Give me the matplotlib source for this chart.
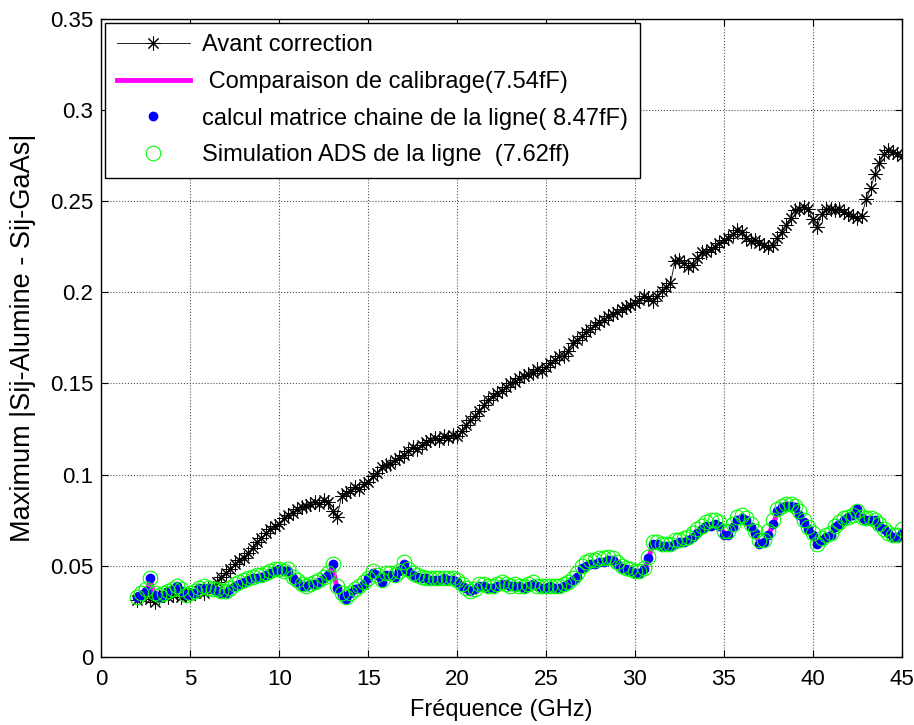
import numpy as np
import matplotlib.pyplot as plt
from matplotlib.ticker import FormatStrFormatter

plt.rcParams['font.family'] = ['Liberation Sans', 'DejaVu Sans']

# frequence de 2 a 45 GHz, pas de 0.25 GHz
freq = np.arange(2, 45.001, 0.25)

avant = [
    0.031, 0.033, 0.034, 0.032,
    0.030, 0.033, 0.034, 0.033,
    0.034, 0.035, 0.033, 0.034,
    0.034, 0.035, 0.036, 0.035,
    0.037, 0.038, 0.041, 0.044,
    0.046, 0.048, 0.051, 0.053,
    0.054, 0.057, 0.060, 0.063,
    0.065, 0.068, 0.070, 0.072,
    0.073, 0.076, 0.078, 0.079,
    0.081, 0.082, 0.083, 0.084,
    0.085, 0.084, 0.086, 0.085,
    0.080, 0.077, 0.088, 0.090,
    0.091, 0.093, 0.092, 0.095,
    0.096, 0.099, 0.101, 0.104,
    0.105, 0.106, 0.108, 0.109,
    0.111, 0.113, 0.115, 0.114,
    0.116, 0.118, 0.119, 0.120,
    0.119, 0.121, 0.120, 0.122,
    0.121, 0.124, 0.127, 0.130,
    0.132, 0.135, 0.138, 0.141,
    0.143, 0.145, 0.146, 0.148,
    0.150, 0.151, 0.153, 0.154,
    0.155, 0.156, 0.158, 0.157,
    0.159, 0.161, 0.163, 0.165,
    0.165, 0.168, 0.172, 0.174,
    0.176, 0.178, 0.180, 0.182,
    0.184, 0.185, 0.187, 0.188,
    0.189, 0.191, 0.192, 0.193,
    0.194, 0.196, 0.198, 0.197,
    0.195, 0.198, 0.201, 0.203,
    0.205, 0.217, 0.218, 0.216,
    0.214, 0.215, 0.219, 0.222,
    0.222, 0.224, 0.225, 0.227,
    0.229, 0.230, 0.232, 0.234,
    0.233, 0.230, 0.228, 0.229,
    0.227, 0.226, 0.225, 0.226,
    0.230, 0.233, 0.237, 0.241,
    0.245, 0.246, 0.247, 0.246,
    0.240, 0.236, 0.243, 0.246,
    0.246, 0.245, 0.246, 0.244,
    0.243, 0.242, 0.241, 0.242,
    0.251, 0.257, 0.265, 0.271,
    0.276, 0.278, 0.277, 0.276,
    0.275,
]

calib = [
    0.032, 0.034, 0.035, 0.042,
    0.033, 0.032, 0.034, 0.035,
    0.036, 0.038, 0.036, 0.033,
    0.034, 0.035, 0.037, 0.038,
    0.037, 0.036, 0.035, 0.034,
    0.034, 0.036, 0.038, 0.040,
    0.040, 0.041, 0.042, 0.043,
    0.043, 0.044, 0.046, 0.047,
    0.047, 0.046, 0.047, 0.042,
    0.040, 0.038, 0.038, 0.039,
    0.039, 0.041, 0.042, 0.045,
    0.050, 0.037, 0.033, 0.031,
    0.034, 0.036, 0.038, 0.039,
    0.042, 0.046, 0.044, 0.040,
    0.045, 0.044, 0.043, 0.046,
    0.050, 0.046, 0.045, 0.043,
    0.043, 0.042, 0.042, 0.041,
    0.042, 0.042, 0.041, 0.042,
    0.040, 0.039, 0.037, 0.035,
    0.036, 0.039, 0.038, 0.038,
    0.037, 0.039, 0.040, 0.039,
    0.038, 0.039, 0.038, 0.037,
    0.039, 0.040, 0.038, 0.037,
    0.038, 0.038, 0.037, 0.038,
    0.038, 0.040, 0.041, 0.043,
    0.048, 0.050, 0.050, 0.050,
    0.051, 0.052, 0.052, 0.053,
    0.050, 0.048, 0.047, 0.046,
    0.045, 0.046, 0.047, 0.053,
    0.062, 0.061, 0.060, 0.061,
    0.060, 0.062, 0.062, 0.063,
    0.064, 0.065, 0.067, 0.070,
    0.071, 0.072, 0.073, 0.072,
    0.068, 0.066, 0.071, 0.074,
    0.076, 0.074, 0.071, 0.067,
    0.063, 0.062, 0.067, 0.072,
    0.079, 0.081, 0.083, 0.082,
    0.081, 0.078, 0.073, 0.070,
    0.066, 0.061, 0.063, 0.065,
    0.066, 0.070, 0.073, 0.075,
    0.076, 0.077, 0.080, 0.076,
    0.074, 0.075, 0.074, 0.072,
    0.069, 0.067, 0.066, 0.066,
    0.067,
]

matrice = [
    0.033, 0.034, 0.036, 0.043,
    0.034, 0.033, 0.034, 0.036,
    0.037, 0.039, 0.036, 0.034,
    0.035, 0.035, 0.038, 0.038,
    0.038, 0.037, 0.036, 0.035,
    0.035, 0.037, 0.039, 0.040,
    0.041, 0.042, 0.043, 0.043,
    0.044, 0.045, 0.046, 0.047,
    0.048, 0.047, 0.047, 0.043,
    0.041, 0.039, 0.039, 0.040,
    0.040, 0.041, 0.043, 0.045,
    0.051, 0.038, 0.034, 0.032,
    0.035, 0.037, 0.038, 0.040,
    0.043, 0.046, 0.045, 0.041,
    0.045, 0.045, 0.044, 0.047,
    0.051, 0.047, 0.045, 0.044,
    0.043, 0.043, 0.042, 0.042,
    0.042, 0.043, 0.042, 0.042,
    0.041, 0.039, 0.038, 0.036,
    0.037, 0.039, 0.039, 0.038,
    0.038, 0.039, 0.040, 0.040,
    0.039, 0.039, 0.039, 0.038,
    0.039, 0.040, 0.039, 0.038,
    0.038, 0.039, 0.038, 0.038,
    0.039, 0.040, 0.042, 0.044,
    0.049, 0.050, 0.051, 0.051,
    0.052, 0.052, 0.053, 0.053,
    0.051, 0.049, 0.048, 0.047,
    0.046, 0.046, 0.048, 0.054,
    0.062, 0.062, 0.061, 0.061,
    0.061, 0.062, 0.063, 0.063,
    0.064, 0.066, 0.068, 0.070,
    0.072, 0.072, 0.073, 0.072,
    0.067, 0.067, 0.071, 0.075,
    0.076, 0.075, 0.071, 0.068,
    0.062, 0.063, 0.067, 0.073,
    0.080, 0.082, 0.083, 0.083,
    0.082, 0.078, 0.074, 0.070,
    0.067, 0.062, 0.064, 0.066,
    0.067, 0.071, 0.073, 0.075,
    0.077, 0.078, 0.081, 0.076,
    0.075, 0.075, 0.075, 0.072,
    0.070, 0.068, 0.066, 0.066,
    0.068,
]

ads = [
    0.033, 0.035, 0.037, 0.043,
    0.035, 0.034, 0.035, 0.036,
    0.037, 0.039, 0.037, 0.034,
    0.035, 0.036, 0.038, 0.039,
    0.038, 0.037, 0.037, 0.036,
    0.036, 0.038, 0.040, 0.041,
    0.042, 0.043, 0.044, 0.045,
    0.045, 0.046, 0.047, 0.048,
    0.048, 0.047, 0.048, 0.044,
    0.042, 0.040, 0.039, 0.040,
    0.041, 0.042, 0.044, 0.046,
    0.051, 0.039, 0.035, 0.033,
    0.035, 0.037, 0.039, 0.041,
    0.043, 0.047, 0.045, 0.042,
    0.046, 0.046, 0.045, 0.047,
    0.052, 0.048, 0.046, 0.045,
    0.044, 0.043, 0.043, 0.043,
    0.043, 0.043, 0.043, 0.043,
    0.042, 0.040, 0.038, 0.036,
    0.037, 0.040, 0.040, 0.039,
    0.039, 0.040, 0.041, 0.040,
    0.039, 0.040, 0.039, 0.039,
    0.040, 0.041, 0.039, 0.039,
    0.039, 0.039, 0.039, 0.039,
    0.040, 0.041, 0.043, 0.046,
    0.050, 0.052, 0.053, 0.053,
    0.054, 0.054, 0.055, 0.054,
    0.052, 0.050, 0.049, 0.048,
    0.047, 0.047, 0.049, 0.055,
    0.063, 0.063, 0.062, 0.062,
    0.062, 0.064, 0.064, 0.065,
    0.066, 0.068, 0.070, 0.072,
    0.074, 0.075, 0.075, 0.074,
    0.069, 0.069, 0.073, 0.077,
    0.078, 0.076, 0.073, 0.069,
    0.064, 0.064, 0.069, 0.075,
    0.081, 0.083, 0.084, 0.084,
    0.083, 0.080, 0.075, 0.071,
    0.068, 0.062, 0.065, 0.067,
    0.068, 0.072, 0.074, 0.076,
    0.077, 0.078, 0.080, 0.077,
    0.076, 0.076, 0.075, 0.073,
    0.070, 0.068, 0.067, 0.067,
    0.070,
]

fig = plt.figure(figsize=(9.14, 7.25), dpi=100)
ax = fig.add_axes([0.111, 0.094, 0.8755, 0.8798])

ax.plot(freq, avant, color='black', linewidth=0.6, marker=(8, 2, 0),
        markersize=10, markeredgewidth=0.75, label='Avant correction')
ax.plot(freq, calib, color='magenta', linewidth=3.5,
        label=' Comparaison de calibrage(7.54fF)')
ax.plot(freq, matrice, linestyle='none', marker='o', markersize=6,
        markerfacecolor='blue', markeredgecolor='blue',
        label='calcul matrice chaine de la ligne( 8.47fF)')
ax.plot(freq, ads, linestyle='none', marker='o', markersize=10.5,
        markerfacecolor='none', markeredgecolor='#00ff00', markeredgewidth=0.8,
        label='Simulation ADS de la ligne  (7.62ff)')

ax.set_xlim(0, 45)
ax.set_ylim(0, 0.35)
ax.set_xticks(np.arange(0, 46, 5))
ax.set_yticks(np.arange(0, 0.351, 0.05))
ax.yaxis.set_major_formatter(FormatStrFormatter('%g'))
ax.tick_params(direction='in', top=True, right=True, labelsize=16, length=5)
ax.tick_params(axis='x', pad=9)
ax.tick_params(axis='y', pad=6)
ax.grid(True, linestyle=':', color='#555555', linewidth=0.8)
for s in ax.spines.values():
    s.set_linewidth(1.0)

ax.set_xlabel('Fréquence (GHz)', fontsize=17, labelpad=6)
ax.set_ylabel('Maximum |Sij-Alumine - Sij-GaAs|', fontsize=19.5, labelpad=10)

leg = ax.legend(loc='upper left', fontsize=17, fancybox=False, framealpha=1,
                edgecolor='black', borderaxespad=0.15, handlelength=3.1,
                handletextpad=0.5, labelspacing=0.62, borderpad=0.5)
leg.get_frame().set_linewidth(1.0)

fig.savefig('out.png', dpi=100)
